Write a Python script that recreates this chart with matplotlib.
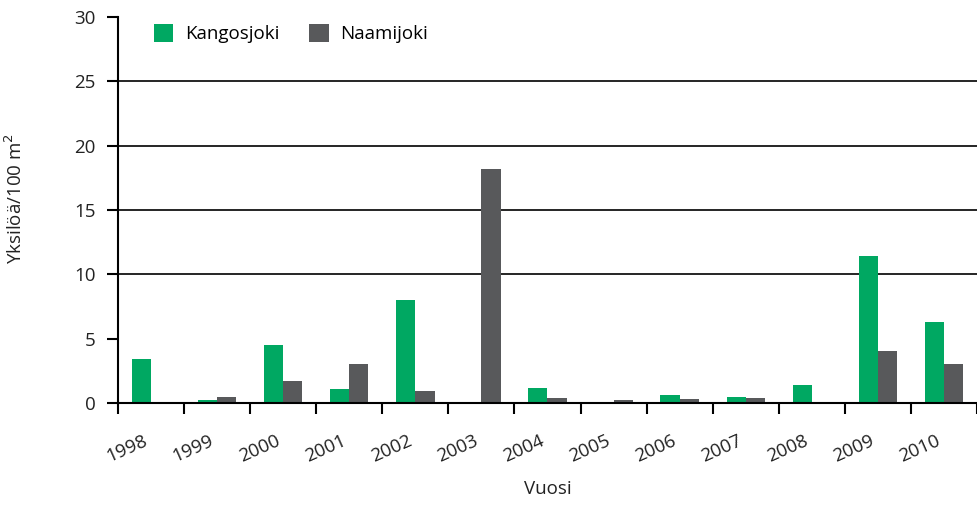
import numpy as np
import matplotlib.pyplot as plt
import matplotlib.transforms as mtransforms

plt.rcParams['font.family'] = ['Open Sans', 'DejaVu Sans']

years = ['1998', '1999', '2000', '2001', '2002', '2003', '2004',
         '2005', '2006', '2007', '2008', '2009', '2010']
kangosjoki = [3.4, 0.25, 4.5, 1.1, 8.0, 0.0, 1.2, 0.0, 0.6, 0.45, 1.4, 11.4, 6.3]
naamijoki = [0.0, 0.45, 1.7, 3.05, 0.9, 18.2, 0.4, 0.25, 0.3, 0.4, 0.0, 4.05, 3.05]

green = '#00a862'
grey = '#58595b'
txt = '#222222'

fig = plt.figure(figsize=(9.78, 5.07), dpi=100)
ax = fig.add_axes([118/978, 104/507, 859/978, 386/507])

x = np.arange(len(years))
w = 0.29
ax.bar(x - w/2, kangosjoki, w, color=green, label='Kangosjoki', zorder=2)
ax.bar(x + w/2, naamijoki, w, color=grey, label='Naamijoki', zorder=2)

# gridlines only at 10..25
for yv in [10, 15, 20, 25]:
    ax.axhline(yv, color='black', lw=1.2, zorder=1)

ax.set_xlim(-0.5, len(years) - 0.5)
ax.set_ylim(0, 30)
ax.set_yticks([0, 5, 10, 15, 20, 25, 30])
ax.set_xticks(np.arange(len(years) + 1) - 0.5)
ax.set_xticklabels([])
ax.set_xticks(x, minor=True)
ax.set_xticklabels(years, minor=True, rotation=24, ha='right',
                   rotation_mode='anchor', fontsize=13.5, color=txt)
ax.tick_params(axis='x', which='major', direction='out', length=8, width=1.5, color='black')
ax.tick_params(axis='x', which='minor', length=0, pad=21)
ax.tick_params(axis='y', direction='out', length=8, width=1.5, labelsize=13.5,
               labelcolor=txt, pad=8)

# nudge year labels left
shift = mtransforms.ScaledTranslation(-8/100, 0, fig.dpi_scale_trans)
for lab in ax.get_xticklabels(minor=True):
    lab.set_transform(lab.get_transform() + shift)

for s in ['top', 'right']:
    ax.spines[s].set_visible(False)
ax.spines['left'].set_linewidth(1.5)
ax.spines['bottom'].set_linewidth(1.5)
ax.spines['bottom'].set_zorder(3)

ax.set_xlabel('Vuosi', fontsize=13.5, color=txt, labelpad=10)
ax.set_ylabel('Yksilöä/100 m$^2$', fontsize=13.5, color=txt)
ax.yaxis.set_label_coords(-0.107, 0.53)

ax.legend(loc='upper left', bbox_to_anchor=(0.022, 1.025), ncol=2, frameon=False,
          fontsize=13.5, handlelength=1.05, handleheight=1.05, columnspacing=1.6,
          handletextpad=0.6)

fig.savefig('out.png', dpi=100)
